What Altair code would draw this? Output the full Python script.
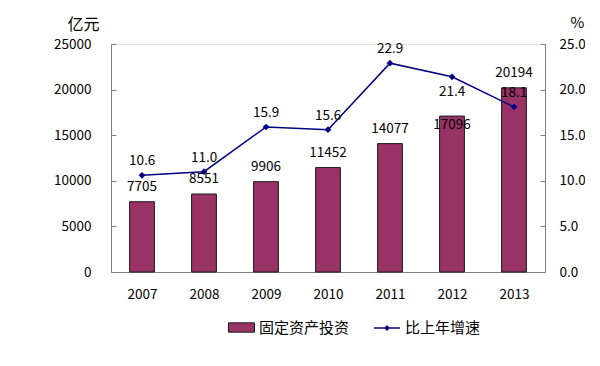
import altair as alt
import pandas as pd

years = ["2007", "2008", "2009", "2010", "2011", "2012", "2013"]
investment = [7705, 8551, 9906, 11452, 14077, 17096, 20194]
growth = [10.6, 11.0, 15.9, 15.6, 22.9, 21.4, 18.1]
left_ticks = [0, 5000, 10000, 15000, 20000, 25000]
right_ticks = [0, 5, 10, 15, 20, 25]
bar_name = "固定资产投资"
line_name = "比上年增速"

df = pd.DataFrame({"year": years, "inv": investment, "growth": growth})

FONT = "Noto Sans CJK SC"
BAR = "#993366"
LINE = "#000080"
AX = "#808080"
LABEL_STYLE = dict(labelFont=FONT, labelFontSize=13.5, labelColor="black",
                   domainColor=AX, tickColor=AX, domainWidth=1, tickWidth=1)

x_enc = alt.X(
    "year:N",
    scale=alt.Scale(paddingInner=0.6, paddingOuter=0.3),
    axis=alt.Axis(
        title=None, labelAngle=0, tickBand="extent",
        tickSize=alt.ExprRef(expr="-4"), labelPadding=19, **LABEL_STYLE,
    ),
)

y_left = alt.Y(
    "inv:Q",
    scale=alt.Scale(domain=[0, 25000]),
    axis=alt.Axis(
        values=left_ticks, format="d", grid=False,
        tickSize=alt.ExprRef(expr="-5"), labelPadding=25,
        title="亿元", titleAngle=0, titleX=-44, titleY=-20,
        titleAlign="left", titleBaseline="middle", titleFontSize=16,
        titleFontWeight="normal", titleFont=FONT, titleColor="black",
        **LABEL_STYLE,
    ),
)

y_right = alt.Y(
    "growth:Q",
    scale=alt.Scale(domain=[0, 25]),
    axis=alt.Axis(
        orient="right", values=right_ticks, format=".1f", grid=False,
        tickSize=alt.ExprRef(expr="-5"), labelPadding=19,
        title="%", titleAngle=0, titleX=32, titleY=-22,
        titleAlign="center", titleBaseline="middle", titleFontSize=15,
        titleFontWeight="normal", titleFont=FONT, titleColor="black",
        **LABEL_STYLE,
    ),
)

base = alt.Chart(df).transform_calculate(bar_series=f"'{bar_name}'", line_series=f"'{line_name}'")

bars = base.mark_bar(stroke="#1a1a1a", strokeWidth=1).encode(
    x=x_enc,
    y=y_left,
    fill=alt.Fill(
        "bar_series:N",
        scale=alt.Scale(domain=[bar_name], range=[BAR]),
        legend=alt.Legend(
            title=None, orient="none", legendX=117, legendY=270,
            symbolType="M-1,-0.36H1V0.36H-1Z", symbolSize=676,
            symbolStrokeColor="#1a1a1a", symbolStrokeWidth=1,
            labelFontSize=15, labelFont=FONT, labelColor="black",
            labelOffset=4, padding=0,
        ),
    ),
)

bar_text = base.mark_text(dy=-15, fontSize=13.5, font=FONT, color="black").encode(
    x=x_enc, y=y_left, text=alt.Text("inv:Q", format="d")
).transform_filter(alt.datum.year != "2012")

bar_text_2012 = base.mark_text(dy=9, fontSize=13.5, font=FONT, color="black").encode(
    x=x_enc, y=y_left, text=alt.Text("inv:Q", format="d")
).transform_filter(alt.datum.year == "2012")

line = base.mark_line(strokeWidth=1.5).encode(
    x=x_enc,
    y=y_right,
    stroke=alt.Stroke(
        "line_series:N",
        scale=alt.Scale(domain=[line_name], range=[LINE]),
        legend=alt.Legend(
            title=None, orient="none", legendX=262, legendY=270,
            symbolType="M-1,0H1M0,-0.14L0.14,0L0,0.14L-0.14,0Z", symbolSize=676,
            symbolFillColor=LINE, symbolStrokeWidth=1.5,
            labelFontSize=15, labelFont=FONT, labelColor="black",
            labelOffset=4, padding=0,
        ),
    ),
)

points = base.mark_point(shape="diamond", filled=True, color=LINE, size=45, opacity=1).encode(
    x=x_enc, y=y_right
)

line_text = base.mark_text(dy=-14, fontSize=13.5, font=FONT, color="black").encode(
    x=x_enc, y=y_right, text=alt.Text("growth:Q", format=".1f")
).transform_filter(alt.datum.year != "2012")

line_text_2012 = base.mark_text(dy=15, fontSize=13.5, font=FONT, color="black").encode(
    x=x_enc, y=y_right, text=alt.Text("growth:Q", format=".1f")
).transform_filter(alt.datum.year == "2012")

left_layer = alt.layer(bars, bar_text, bar_text_2012)
right_layer = alt.layer(line, points, line_text, line_text_2012)

chart = alt.layer(left_layer, right_layer).resolve_scale(y="independent").properties(
    width=434,
    height=228,
    padding={"left": 103, "top": 36, "right": 40, "bottom": 80},
    autosize=alt.AutoSizeParams(type="none"),
).configure_view(stroke=None).configure(background="white")

chart.save("out.html", embed_options={"renderer": "svg", "actions": False})
